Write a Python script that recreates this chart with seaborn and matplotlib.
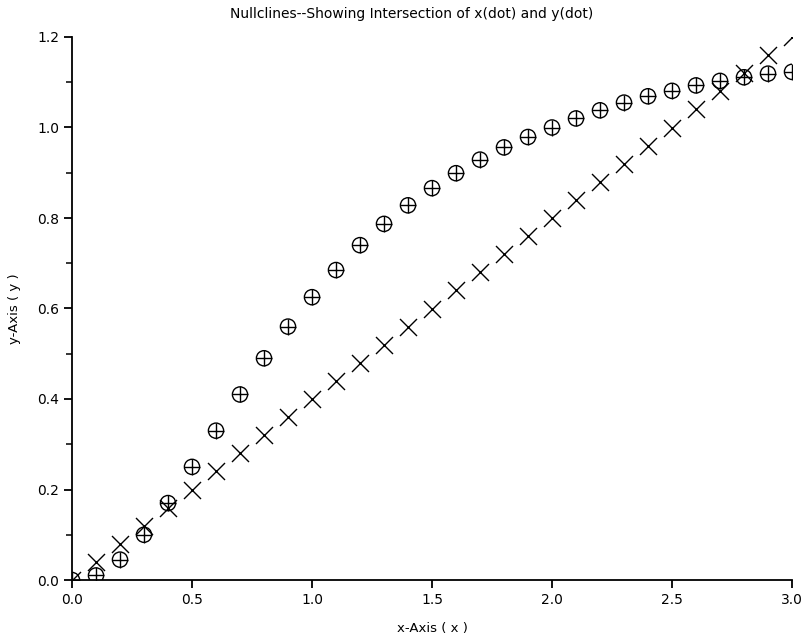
import seaborn as sns
import pandas as pd
from matplotlib import pyplot as plt
from matplotlib.ticker import MultipleLocator

# sample points along x
x_vals = [0.0, 0.1, 0.2, 0.3, 0.4, 0.5, 0.6, 0.7, 0.8, 0.9, 1.0,
          1.1, 1.2, 1.3, 1.4, 1.5, 1.6, 1.7, 1.8, 1.9, 2.0,
          2.1, 2.2, 2.3, 2.4, 2.5, 2.6, 2.7, 2.8, 2.9, 3.0]
# x(dot)=0 nullcline (circle-plus markers)
y_xdot = [0.0, 0.01, 0.045, 0.10, 0.17, 0.25, 0.33, 0.41, 0.49, 0.56, 0.625,
          0.685, 0.74, 0.787, 0.828, 0.866, 0.899, 0.929, 0.956, 0.979, 1.0,
          1.02, 1.038, 1.055, 1.069, 1.081, 1.093, 1.103, 1.111, 1.119, 1.123]
# y(dot)=0 nullcline (cross markers)
y_ydot = [0.0, 0.04, 0.08, 0.12, 0.16, 0.20, 0.24, 0.28, 0.32, 0.36, 0.40,
          0.44, 0.48, 0.52, 0.56, 0.60, 0.64, 0.68, 0.72, 0.76, 0.80,
          0.84, 0.88, 0.92, 0.96, 1.00, 1.04, 1.08, 1.12, 1.16, 1.20]

df = pd.DataFrame({"x": x_vals, "xdot": y_xdot, "ydot": y_ydot})

sns.set_style("ticks")
plt.rcParams["font.family"] = ["DejaVu Sans"]
plt.rcParams["text.color"] = "black"
plt.rcParams["axes.labelcolor"] = "black"

fig = plt.figure(figsize=(8.06, 6.4), dpi=100)
ax = fig.add_axes([72 / 806, 60 / 640, 720 / 806, 543 / 640])

# circle-plus: hollow circle overlaid with a plus
sns.scatterplot(data=df, x="x", y="xdot", ax=ax, marker="o", s=120,
                facecolors="none", edgecolor="black", linewidth=1.0)
sns.scatterplot(data=df, x="x", y="xdot", ax=ax, marker="+", s=120,
                color="black", linewidth=1.0)
sns.scatterplot(data=df, x="x", y="ydot", ax=ax, marker="x", s=150,
                color="black", linewidth=1.0)

ax.set_xlim(0, 3)
ax.set_ylim(0, 1.2)
ax.xaxis.set_major_locator(MultipleLocator(0.5))
ax.yaxis.set_major_locator(MultipleLocator(0.2))
ax.yaxis.set_minor_locator(MultipleLocator(0.1))
ax.xaxis.set_major_formatter(plt.FormatStrFormatter("%.1f"))
ax.yaxis.set_major_formatter(plt.FormatStrFormatter("%.1f"))

sns.despine(ax=ax)
for s in ["left", "bottom"]:
    ax.spines[s].set_linewidth(1.3)
    ax.spines[s].set_color("black")
ax.tick_params(which="major", direction="out", length=6, width=1.3,
               labelsize=10, colors="black", pad=3)
ax.tick_params(which="minor", direction="out", length=4, width=1.3)

ax.set_xlabel("x-Axis ( x )", fontsize=9.5, labelpad=11)
ax.set_ylabel("y-Axis ( y )", fontsize=9.5, labelpad=12)
fig.text(412 / 806, 1 - 14 / 640,
         "Nullclines--Showing Intersection of x(dot) and y(dot)",
         ha="center", va="center", fontsize=10)

fig.savefig("out.png", dpi=100)
